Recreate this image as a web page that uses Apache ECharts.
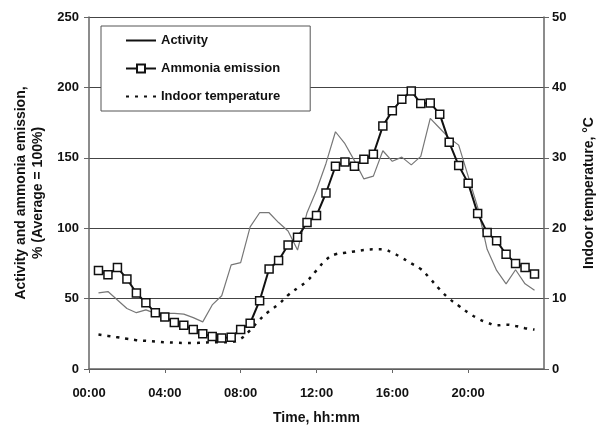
<!DOCTYPE html>
<html>
<head>
<meta charset="utf-8">
<script src="https://cdn.jsdelivr.net/npm/echarts@6/dist/echarts.min.js"></script>
<style>
  html, body { margin: 0; padding: 0; background: #fff; }
  #charts { width: 601px; height: 426px; }
</style>
</head>
<body>
<div id="charts"></div>
<script type="text/javascript">
// half-hour readings, 00:30 .. 23:30
var times = ['00:30','01:00','01:30','02:00','02:30','03:00','03:30','04:00','04:30','05:00','05:30','06:00',
             '06:30','07:00','07:30','08:00','08:30','09:00','09:30','10:00','10:30','11:00','11:30','12:00',
             '12:30','13:00','13:30','14:00','14:30','15:00','15:30','16:00','16:30','17:00','17:30','18:00',
             '18:30','19:00','19:30','20:00','20:30','21:00','21:30','22:00','22:30','23:00','23:30'];

var activity = [54, 55, 49, 43, 40, 42, 39.5, 39.5, 39.5, 39, 36.5, 33.5,
                45.5, 52, 74, 75.5, 101, 111, 111, 104, 98, 84.5, 111, 127,
                146, 168.5, 160, 148, 135, 137, 155, 147.5, 150.5, 145, 151, 178,
                171, 164, 159, 137, 115, 85, 70, 60.5, 70.5, 60.5, 56];

var ammonia = [70, 67, 72, 64, 54, 47, 40, 37, 33, 31, 28, 25,
               23, 22, 22.5, 28, 32.5, 48.5, 71, 77, 88, 93.5, 104, 109,
               125, 144, 147, 144, 149, 152.5, 172.5, 183.5, 191.5, 197.5, 188.5, 189,
               181, 161, 144.5, 132, 110.5, 97, 91, 81.5, 75, 72, 67.5];

var temperature = [4.9, 4.7, 4.5, 4.3, 4.1, 4.0, 3.9, 3.8, 3.75, 3.7, 3.7, 3.75,
                   3.8, 3.8, 3.85, 4.3, 5.5, 7.0, 8.2, 9.2, 10.5, 11.5, 12.5, 14.0,
                   15.5, 16.3, 16.5, 16.7, 16.9, 17.0, 17.0, 16.5, 15.8, 15.0, 14.2, 12.8,
                   11.3, 10.0, 9.0, 8.0, 7.2, 6.6, 6.2, 6.3, 6.1, 5.8, 5.6];

var xTickLabels = ['00:00', '04:00', '08:00', '12:00', '16:00', '20:00'];

function toHours(t) {
    var p = t.split(':');
    return +p[0] + (+p[1]) / 60;
}
function pairs(vals) {
    return times.map(function (t, i) { return [toHours(t), vals[i]]; });
}

var font = 'Liberation Sans, Arial, sans-serif';
var dom = document.getElementById("charts");
var myChart = echarts.init(dom);
var option = {
    animation: false,
    textStyle: { fontFamily: font },
    grid: { left: 89, right: 57, top: 17, bottom: 57, containLabel: false, outerBoundsMode: 'none' },
    legend: {
        orient: 'vertical',
        left: 101,
        top: 26,
        padding: [8, 30, 8, 24],
        itemGap: 15,
        itemWidth: 30,
        itemHeight: 10,
        backgroundColor: '#fff',
        borderColor: '#555',
        borderWidth: 1,
        textStyle: { fontFamily: font, fontWeight: 'bold', fontSize: 13, color: '#111' },
        data: [
            { name: 'Activity', itemStyle: { opacity: 0 }, lineStyle: { color: '#111' } },
            { name: 'Ammonia emission' },
            { name: 'Indoor temperature', itemStyle: { opacity: 0 } }
        ]
    },
    xAxis: {
        type: 'value',
        min: 0,
        max: 24,
        interval: 4,
        name: 'Time, hh:mm',
        nameLocation: 'middle',
        nameGap: 42,
        nameTextStyle: { fontFamily: font, fontWeight: 'bold', fontSize: 14, color: '#111' },
        axisLine: { lineStyle: { color: '#666', width: 1.5 } },
        axisTick: { length: 4, lineStyle: { color: '#666' } },
        splitLine: { show: false },
        axisLabel: {
            showMaxLabel: false,
            margin: 18,
            fontFamily: font, fontWeight: 'bold', fontSize: 13, color: '#111',
            formatter: function (v) { return xTickLabels[v / 4] || ''; }
        }
    },
    yAxis: [
        {
            type: 'value',
            min: 0,
            max: 250,
            interval: 50,
            name: 'Activity and ammonia emission,\n% (Average = 100%)',
            nameLocation: 'middle',
            nameRotate: 90,
            nameGap: 37,
            nameTextStyle: { fontFamily: font, fontWeight: 'bold', fontSize: 14, color: '#111', lineHeight: 17 },
            axisLine: { show: true, lineStyle: { color: '#666', width: 1.5 } },
            axisTick: { show: true, length: 5, lineStyle: { color: '#666' } },
            splitLine: { lineStyle: { color: '#444', width: 1 } },
            axisLabel: { margin: 10, fontFamily: font, fontWeight: 'bold', fontSize: 13, color: '#111' }
        },
        {
            type: 'value',
            min: 0,
            max: 50,
            interval: 10,
            name: 'Indoor temperature, °C',
            nameLocation: 'middle',
            nameRotate: 90,
            nameGap: 38,
            nameTextStyle: { fontFamily: font, fontWeight: 'bold', fontSize: 14, color: '#111' },
            axisLine: { show: true, lineStyle: { color: '#666', width: 1.5 } },
            axisTick: { show: true, length: 5, lineStyle: { color: '#666' } },
            splitLine: { show: false },
            axisLabel: { margin: 8, fontFamily: font, fontWeight: 'bold', fontSize: 13, color: '#111' }
        }
    ],
    series: [
        {
            name: 'Indoor temperature',
            type: 'line',
            yAxisIndex: 1,
            symbol: 'none',
            smooth: true,
            z: 1,
            lineStyle: { color: '#111', width: 2.5, type: [3, 6] },
            itemStyle: { color: '#111' },
            data: pairs(temperature)
        },
        {
            name: 'Activity',
            type: 'line',
            symbol: 'none',
            z: 2,
            lineStyle: { color: '#777', width: 1.2 },
            itemStyle: { color: '#222' },
            data: pairs(activity)
        },
        {
            name: 'Ammonia emission',
            type: 'line',
            symbol: 'rect',
            symbolSize: 8,
            z: 3,
            lineStyle: { color: '#111', width: 2 },
            itemStyle: { color: '#fff', borderColor: '#111', borderWidth: 1.5 },
            data: pairs(ammonia)
        }
    ]
};
myChart.setOption(option, true);
</script>
</body>
</html>
